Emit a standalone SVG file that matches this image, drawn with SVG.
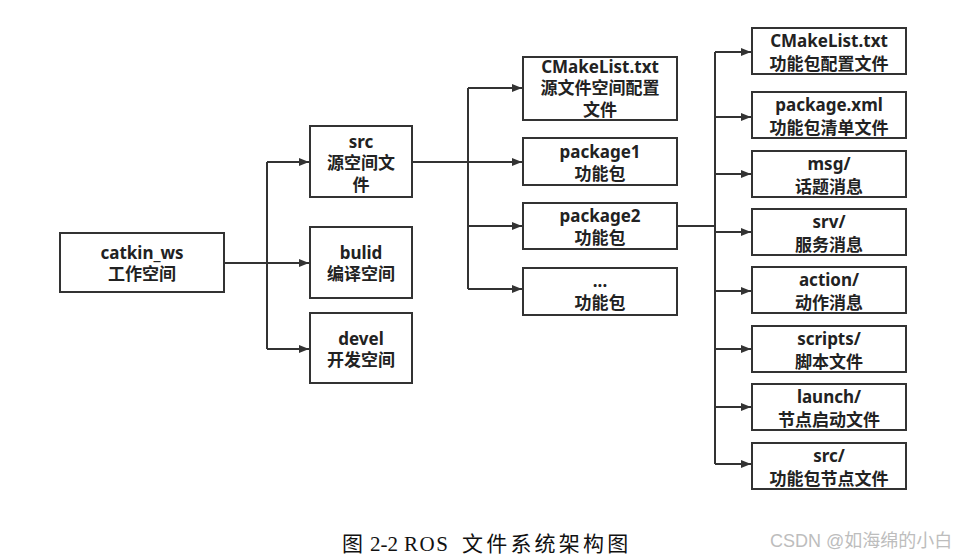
<svg xmlns="http://www.w3.org/2000/svg" width="953" height="557" viewBox="0 0 953 557">
  <style>
    .box { fill: #ffffff; stroke: #333333; stroke-width: 2; }
    .lbl { font-family: "Noto Sans", "Noto Sans CJK SC", sans-serif; font-size: 17px; font-weight: bold; fill: #222222; text-anchor: middle; }
    .wire { fill: none; stroke: #333333; stroke-width: 2; }
    .arrow { fill: none; stroke: #333333; stroke-width: 2; marker-end: url(#head); }
    .caption { font-family: "Liberation Serif", "Noto Sans CJK SC", serif; font-size: 21px; fill: #111111; }
    .mark { font-family: "Liberation Sans", "Noto Sans CJK SC", sans-serif; font-size: 18px; fill: #bdbdbd; }
  </style>
  <defs>
    <marker id="head" viewBox="0 0 10 8" refX="10" refY="4" markerWidth="10" markerHeight="8" markerUnits="userSpaceOnUse" orient="auto">
      <path d="M0,0 L10,4 L0,8 Z" fill="#333333"/>
    </marker>
  </defs>

  <rect width="953" height="557" fill="#ffffff"/>

  <!-- connectors -->
  <g id="connectors">
    <!-- workspace to its three spaces -->
    <path class="wire" d="M224,263 H267 M267,162 V349"/>
    <path class="arrow" d="M267,162 H309"/>
    <path class="arrow" d="M267,263 H309"/>
    <path class="arrow" d="M267,349 H309"/>
    <!-- src to packages -->
    <path class="wire" d="M412,162 H468 M468,88 V289"/>
    <path class="arrow" d="M468,88 H522"/>
    <path class="arrow" d="M468,162 H522"/>
    <path class="arrow" d="M468,226 H522"/>
    <path class="arrow" d="M468,289 H522"/>
    <!-- package2 contents -->
    <path class="wire" d="M677,226 H715 M715,52 V464"/>
    <path class="arrow" d="M715,52 H751"/>
    <path class="arrow" d="M715,117 H751"/>
    <path class="arrow" d="M715,174 H751"/>
    <path class="arrow" d="M715,232 H751"/>
    <path class="arrow" d="M715,291 H751"/>
    <path class="arrow" d="M715,349 H751"/>
    <path class="arrow" d="M715,407 H751"/>
    <path class="arrow" d="M715,464 H751"/>
  </g>

  <!-- workspace -->
  <g id="catkin_ws">
    <rect class="box" x="60" y="233" width="164" height="59"/>
    <text class="lbl" x="142" y="259">catkin_ws</text>
    <text class="lbl" x="142" y="280">工作空间</text>
  </g>

  <!-- spaces -->
  <g id="src">
    <rect class="box" x="310" y="126" width="102" height="71"/>
    <text class="lbl" x="361" y="148">src</text>
    <text class="lbl" x="361" y="169">源空间文</text>
    <text class="lbl" x="361" y="191">件</text>
  </g>
  <g id="build">
    <rect class="box" x="310" y="227" width="102" height="71"/>
    <text class="lbl" x="361" y="259">bulid</text>
    <text class="lbl" x="361" y="280">编译空间</text>
  </g>
  <g id="devel">
    <rect class="box" x="310" y="313" width="102" height="70"/>
    <text class="lbl" x="361" y="345">devel</text>
    <text class="lbl" x="361" y="366">开发空间</text>
  </g>

  <!-- src contents -->
  <g id="src_cmake">
    <rect class="box" x="523" y="57" width="154" height="63"/>
    <text class="lbl" x="600" y="73">CMakeList.txt</text>
    <text class="lbl" x="600" y="94">源文件空间配置</text>
    <text class="lbl" x="600" y="116">文件</text>
  </g>
  <g id="package1">
    <rect class="box" x="523" y="138" width="154" height="47"/>
    <text class="lbl" x="600" y="158">package1</text>
    <text class="lbl" x="600" y="180">功能包</text>
  </g>
  <g id="package2">
    <rect class="box" x="523" y="203" width="154" height="46"/>
    <text class="lbl" x="600" y="222">package2</text>
    <text class="lbl" x="600" y="244">功能包</text>
  </g>
  <g id="package_more">
    <rect class="box" x="523" y="268" width="154" height="47"/>
    <text class="lbl" x="600" y="287">...</text>
    <text class="lbl" x="600" y="309">功能包</text>
  </g>

  <!-- package contents -->
  <g id="pkg_cmake">
    <rect class="box" x="752" y="28" width="154" height="46"/>
    <text class="lbl" x="829" y="47">CMakeList.txt</text>
    <text class="lbl" x="829" y="70">功能包配置文件</text>
  </g>
  <g id="pkg_xml">
    <rect class="box" x="752" y="92" width="154" height="46"/>
    <text class="lbl" x="829" y="111">package.xml</text>
    <text class="lbl" x="829" y="134">功能包清单文件</text>
  </g>
  <g id="pkg_msg">
    <rect class="box" x="752" y="151" width="154" height="46"/>
    <text class="lbl" x="829" y="170">msg/</text>
    <text class="lbl" x="829" y="193">话题消息</text>
  </g>
  <g id="pkg_srv">
    <rect class="box" x="752" y="209" width="154" height="46"/>
    <text class="lbl" x="829" y="228">srv/</text>
    <text class="lbl" x="829" y="251">服务消息</text>
  </g>
  <g id="pkg_action">
    <rect class="box" x="752" y="267" width="154" height="46"/>
    <text class="lbl" x="829" y="286">action/</text>
    <text class="lbl" x="829" y="309">动作消息</text>
  </g>
  <g id="pkg_scripts">
    <rect class="box" x="752" y="326" width="154" height="46"/>
    <text class="lbl" x="829" y="345">scripts/</text>
    <text class="lbl" x="829" y="368">脚本文件</text>
  </g>
  <g id="pkg_launch">
    <rect class="box" x="752" y="384" width="154" height="46"/>
    <text class="lbl" x="829" y="403">launch/</text>
    <text class="lbl" x="829" y="426">节点启动文件</text>
  </g>
  <g id="pkg_src">
    <rect class="box" x="752" y="443" width="154" height="46"/>
    <text class="lbl" x="829" y="462">src/</text>
    <text class="lbl" x="829" y="485">功能包节点文件</text>
  </g>

  <!-- caption and watermark -->
  <text class="caption" y="551"><tspan x="342">图</tspan><tspan x="370">2-2</tspan><tspan x="404" letter-spacing="1.5">ROS</tspan><tspan x="462" letter-spacing="3.2">文件系统架构图</tspan></text>
  <text class="mark" x="770" y="547">CSDN @如海绵的小白</text>
</svg>
